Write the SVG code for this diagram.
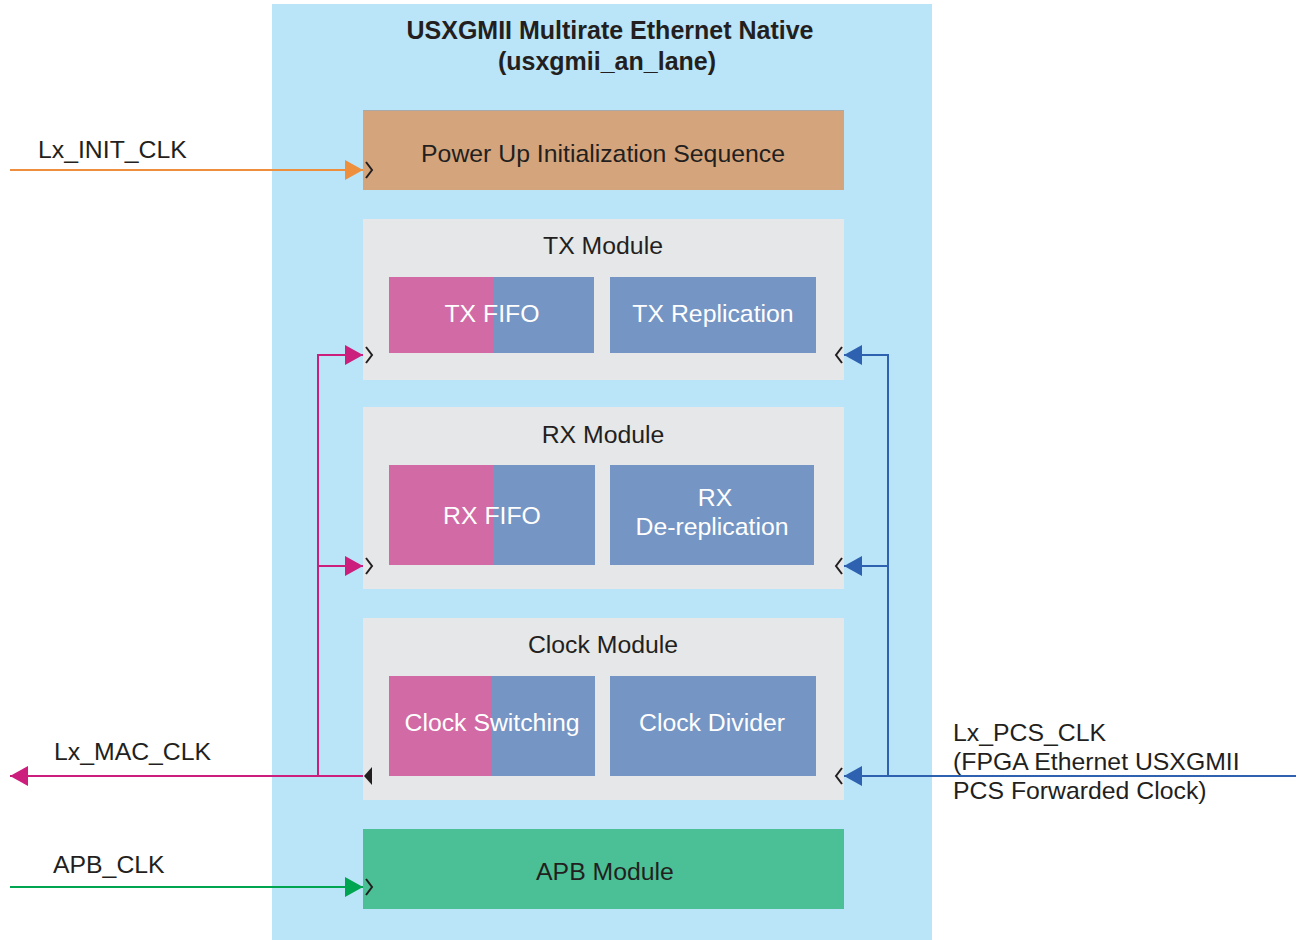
<svg xmlns="http://www.w3.org/2000/svg" width="1299" height="940" viewBox="0 0 1299 940">
  <style>
    text { font-family: "Liberation Sans", Arial, sans-serif; fill: #231f20; }
    .title { font-weight: bold; font-size: 25px; text-anchor: middle; }
    .lbl { font-size: 24.8px; }
    .mod { font-size: 24.8px; text-anchor: middle; }
    .sub { font-size: 24.8px; text-anchor: middle; fill: #ffffff; }
    .pink { fill: #d26aa5; }
    .blue { fill: #7595c4; }
    .panel { fill: #e6e7e8; }
    .clk { fill: none; stroke: #231f20; stroke-width: 2; }
  </style>
  <defs>
    <marker id="ahOrange" markerWidth="18" markerHeight="20" refX="18" refY="10" orient="auto" markerUnits="userSpaceOnUse">
      <path d="M0,0 L18,10 L0,20 Z" fill="#ee8f3d"/>
    </marker>
    <marker id="ahPink" markerWidth="18" markerHeight="20" refX="18" refY="10" orient="auto" markerUnits="userSpaceOnUse">
      <path d="M0,0 L18,10 L0,20 Z" fill="#cc1f7d"/>
    </marker>
    <marker id="ahBlue" markerWidth="18" markerHeight="20" refX="18" refY="10" orient="auto" markerUnits="userSpaceOnUse">
      <path d="M0,0 L18,10 L0,20 Z" fill="#2e62b0"/>
    </marker>
    <marker id="ahGreen" markerWidth="18" markerHeight="20" refX="18" refY="10" orient="auto" markerUnits="userSpaceOnUse">
      <path d="M0,0 L18,10 L0,20 Z" fill="#00a551"/>
    </marker>
  </defs>

  <rect width="1299" height="940" fill="#ffffff"/>

  <!-- outer IP block -->
  <g id="ip-block">
    <rect x="272" y="4" width="660" height="936" fill="#bae4f8"/>
    <text class="title" x="610" y="39">USXGMII Multirate Ethernet Native</text>
    <text class="title" x="607" y="70">(usxgmii_an_lane)</text>
  </g>

  <g id="power-up">
    <rect x="363" y="110" width="481" height="80" fill="#d4a57c"/>
    <line x1="363" y1="110.5" x2="844" y2="110.5" stroke="#a9a9a9" stroke-width="1"/>
    <text class="mod" x="603" y="162">Power Up Initialization Sequence</text>
  </g>

  <g id="tx-module">
    <rect class="panel" x="363" y="219" width="481" height="161"/>
    <text class="mod" x="603" y="254">TX Module</text>
    <rect class="blue" x="389" y="277" width="205" height="76"/>
    <rect class="pink" x="389" y="277" width="105" height="76"/>
    <text class="sub" x="492" y="322">TX FIFO</text>
    <rect class="blue" x="610" y="277" width="206" height="76"/>
    <text class="sub" x="713" y="322">TX Replication</text>
  </g>

  <g id="rx-module">
    <rect class="panel" x="363" y="407" width="481" height="182"/>
    <text class="mod" x="603" y="443">RX Module</text>
    <rect class="blue" x="389" y="465" width="206" height="100"/>
    <rect class="pink" x="389" y="465" width="104" height="100"/>
    <text class="sub" x="492" y="524">RX FIFO</text>
    <rect class="blue" x="610" y="465" width="204" height="100"/>
    <text class="sub" x="715" y="506">RX</text>
    <text class="sub" x="712" y="535">De-replication</text>
  </g>

  <g id="clock-module">
    <rect class="panel" x="363" y="618" width="481" height="182"/>
    <text class="mod" x="603" y="653">Clock Module</text>
    <rect class="blue" x="389" y="676" width="206" height="100"/>
    <rect class="pink" x="389" y="676" width="103" height="100"/>
    <text class="sub" x="492" y="731">Clock Switching</text>
    <rect class="blue" x="610" y="676" width="206" height="100"/>
    <text class="sub" x="712" y="731">Clock Divider</text>
  </g>

  <g id="apb-module">
    <rect x="363" y="829" width="481" height="80" fill="#4bbf95"/>
    <text class="mod" x="605" y="880">APB Module</text>
  </g>

  <!-- clock input / output pins -->
  <g id="clock-pins">
    <path class="clk" d="M366,162 L372,170 L366,178"/>
    <path class="clk" d="M366,347 L372,355 L366,363"/>
    <path class="clk" d="M366,558 L372,566 L366,574"/>
    <path class="clk" d="M366,879 L372,887 L366,895"/>
    <path class="clk" d="M842,347 L836,355 L842,363"/>
    <path class="clk" d="M842,558 L836,566 L842,574"/>
    <path class="clk" d="M842,768 L836,776 L842,784"/>
    <path d="M372,767 L364,776 L372,785 Z" fill="#231f20"/>
  </g>

  <!-- signal connectors -->
  <g id="connectors" fill="none" stroke-width="2">
    <line x1="10" y1="170" x2="363" y2="170" stroke="#ee8f3d" marker-end="url(#ahOrange)"/>
    <line x1="10" y1="887" x2="363" y2="887" stroke="#00a551" marker-end="url(#ahGreen)"/>
    <line x1="363" y1="776" x2="10" y2="776" stroke="#cc1f7d" marker-end="url(#ahPink)"/>
    <polyline points="318,776 318,355 363,355" stroke="#cc1f7d" marker-end="url(#ahPink)"/>
    <line x1="318" y1="566" x2="363" y2="566" stroke="#cc1f7d" marker-end="url(#ahPink)"/>
    <line x1="1296" y1="776" x2="844" y2="776" stroke="#2e62b0" marker-end="url(#ahBlue)"/>
    <polyline points="888,776 888,355 844,355" stroke="#2e62b0" marker-end="url(#ahBlue)"/>
    <line x1="888" y1="566" x2="844" y2="566" stroke="#2e62b0" marker-end="url(#ahBlue)"/>
  </g>

  <g id="signal-labels">
    <text class="lbl" x="38" y="158">Lx_INIT_CLK</text>
    <text class="lbl" x="54" y="760">Lx_MAC_CLK</text>
    <text class="lbl" x="53" y="873">APB_CLK</text>
    <text class="lbl" x="953" y="741">Lx_PCS_CLK</text>
    <text class="lbl" x="953" y="770">(FPGA Ethernet USXGMII</text>
    <text class="lbl" x="953" y="799">PCS Forwarded Clock)</text>
  </g>
</svg>
